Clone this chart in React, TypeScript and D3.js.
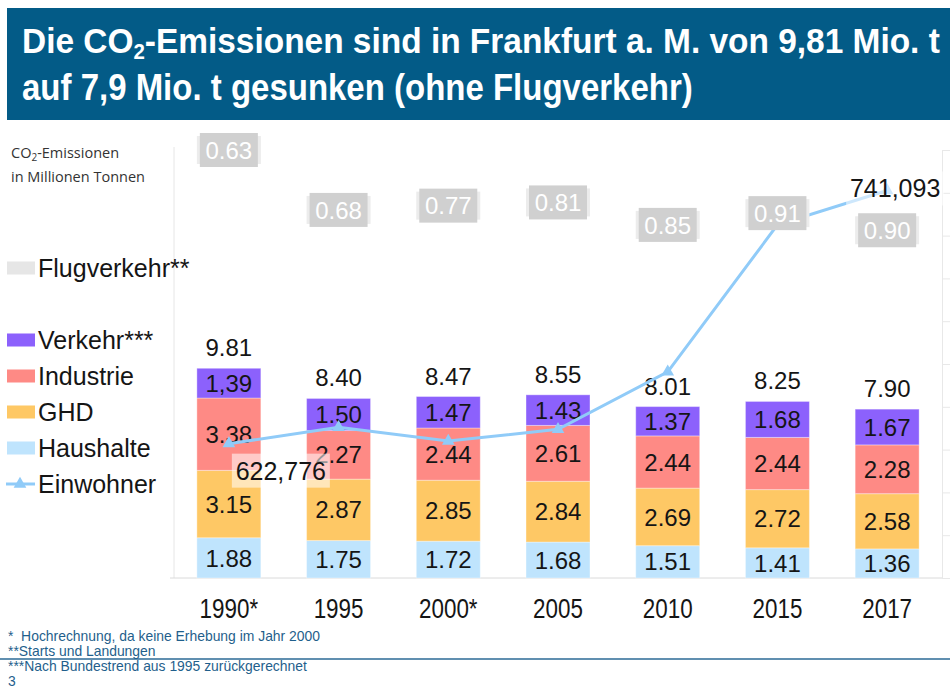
import React, { useEffect, useRef } from "react";
import * as d3 from "d3";

// CO2-Emissionen Frankfurt a. M., Mio. t
const years = ["1990*", "1995", "2000*", "2005", "2010", "2015", "2017"];
const haushalte = [1.88, 1.75, 1.72, 1.68, 1.51, 1.41, 1.36];
const ghd = [3.15, 2.87, 2.85, 2.84, 2.69, 2.72, 2.58];
const industrie = [3.38, 2.27, 2.44, 2.61, 2.44, 2.44, 2.28];
const verkehr = [1.39, 1.5, 1.47, 1.43, 1.37, 1.68, 1.67];
const totals = [9.81, 8.4, 8.47, 8.55, 8.01, 8.25, 7.9];
const flugverkehr = [0.63, 0.68, 0.77, 0.81, 0.85, 0.91, 0.9];
// the Flugverkehr labels float freely in the original, anchored here in Mio. t (left axis)
const flugLabelAt = [20.0, 17.2, 17.4, 17.55, 16.5, 17.05, 16.25];
// Einwohner, right (hidden) axis
const einwohner = [622776, 630400, 624000, 629500, 656300, 725000, 741093];
const einwohnerTicks = [560000, 580000, 600000, 620000, 640000, 660000, 680000, 700000, 720000, 740000, 760000];

const seriesKeys = ["Haushalte", "GHD", "Industrie", "Verkehr"];
const seriesValues: Record<string, number[]> = {
  Haushalte: haushalte,
  GHD: ghd,
  Industrie: industrie,
  Verkehr: verkehr,
};
const colors: Record<string, string> = {
  Haushalte: "#bfe4fd",
  GHD: "#fec865",
  Industrie: "#fe8a85",
  Verkehr: "#8c61fc",
  Flugverkehr: "#e6e6e6",
  Einwohner: "#90cbf8",
};
// original sheet wrote this one with a comma
const labelOverride: Record<string, string> = { "Verkehr|1990*": "1,39" };

const W = 950;
const H = 688;

export default function App() {
  const svgRef = useRef<SVGSVGElement | null>(null);

  useEffect(() => {
    if (!svgRef.current) return;
    const svg = d3.select(svgRef.current);
    svg.selectAll("*").remove();

    const font = "'Liberation Sans', Arial, sans-serif";
    const plotLeft = 174;
    const plotRight = 942;
    const baseY = 578;
    const topY = 150;

    const x = d3
      .scaleBand()
      .domain(years)
      .range([plotLeft, plotRight])
      .paddingInner(0.417)
      .paddingOuter(0.2085);
    const y = d3.scaleLinear().domain([0, 20]).range([baseY, topY]);
    const y2 = d3.scaleLinear().domain([560000, 760000]).range([baseY, topY]);

    // title bar
    svg.append("rect").attr("x", 7).attr("y", 8).attr("width", W - 7).attr("height", 112).attr("fill", "#035b87");
    const titleLines = [
      { parts: [["Die CO", 0], ["2", 1], ["-Emissionen sind in Frankfurt a. M. von 9,81 Mio. t", 0]], y: 53, w: 918 },
      { parts: [["auf 7,9 Mio. t gesunken (ohne Flugverkehr)", 0]], y: 100, w: 671 },
    ];
    titleLines.forEach((ln) => {
      const g = svg.append("g").attr("transform", `translate(22,${ln.y})`);
      const t = g
        .append("text")
        .attr("font-family", font)
        .attr("font-weight", "bold")
        .attr("font-size", 36)
        .attr("fill", "#ffffff");
      ln.parts.forEach(([s, sub]) => {
        const ts = t.append("tspan").text(s as string);
        if (sub) ts.attr("font-size", 22).attr("baseline-shift", "-30%");
      });
      const bw = (t.node() as SVGTextElement).getBBox().width;
      if (bw > 0) g.attr("transform", `translate(22,${ln.y}) scale(${ln.w / bw},1)`);
    });

    // axis title
    const at = svg
      .append("text")
      .attr("font-family", "'Open Sans', sans-serif")
      .attr("font-size", 14.5)
      .attr("fill", "#333");
    const at1 = at.append("tspan").attr("x", 11).attr("y", 158);
    at1.append("tspan").text("CO");
    at1.append("tspan").attr("font-size", 10).attr("baseline-shift", "-25%").text("2");
    at1.append("tspan").text("-Emissionen");
    at.append("tspan").attr("x", 11).attr("y", 182).text("in Millionen Tonnen");

    // frame lines
    svg.append("line").attr("x1", plotLeft).attr("x2", plotLeft).attr("y1", 147).attr("y2", baseY).attr("stroke", "#e6e6e6");
    svg
      .append("g")
      .attr("transform", `translate(${plotRight},0)`)
      .call(d3.axisRight(y2).tickValues(einwohnerTicks).tickSize(8).tickFormat(() => ""))
      .call((g) => g.selectAll("line, path").attr("stroke", "#e8e8e8"));
    svg.append("line").attr("x1", 170).attr("x2", plotRight).attr("y1", baseY).attr("y2", baseY).attr("stroke", "#dadada");

    // stacked bars
    const rows = years.map((yr, i) => {
      const r: any = { year: yr };
      seriesKeys.forEach((k) => (r[k] = seriesValues[k][i]));
      return r;
    });
    const stacked = d3.stack().keys(seriesKeys)(rows);
    const fmt = d3.format(".2f");

    stacked.forEach((layer) => {
      const g = svg.append("g");
      g.selectAll("rect")
        .data(layer)
        .enter()
        .append("rect")
        .attr("x", (d: any) => x(d.data.year)!)
        .attr("y", (d) => y(d[1]))
        .attr("width", x.bandwidth())
        .attr("height", (d) => y(d[0]) - y(d[1]))
        .attr("fill", colors[layer.key])
        .attr("stroke", "rgba(255,255,255,0.35)")
        .attr("stroke-width", 1);
      g.selectAll("text")
        .data(layer)
        .enter()
        .append("text")
        .attr("x", (d: any) => x(d.data.year)! + x.bandwidth() / 2)
        .attr("y", (d) => (y(d[0]) + y(d[1])) / 2)
        .attr("dy", "0.36em")
        .attr("text-anchor", "middle")
        .attr("font-family", font)
        .attr("font-size", 24)
        .attr("fill", "#151515")
        .text((d: any) => labelOverride[`${layer.key}|${d.data.year}`] ?? fmt(d[1] - d[0]));
    });

    // totals
    svg
      .append("g")
      .selectAll("text")
      .data(years)
      .enter()
      .append("text")
      .attr("x", (d) => x(d)! + x.bandwidth() / 2)
      .attr("y", (d, i) => y(totals[i]) - 12)
      .attr("text-anchor", "middle")
      .attr("font-family", font)
      .attr("font-size", 24)
      .attr("fill", "#151515")
      .text((d, i) => fmt(totals[i]));

    // Einwohner line
    const pts = years.map((yr, i) => [x(yr)! + x.bandwidth() / 2, y2(einwohner[i])] as [number, number]);
    svg
      .append("path")
      .attr("d", d3.line()(pts)!)
      .attr("fill", "none")
      .attr("stroke", colors.Einwohner)
      .attr("stroke-width", 3);
    const tri = d3.symbol().type(d3.symbolTriangle).size(70)();
    svg
      .append("g")
      .selectAll("path")
      .data(pts)
      .enter()
      .append("path")
      .attr("d", tri)
      .attr("transform", (d) => `translate(${d[0]},${d[1]})`)
      .attr("fill", colors.Einwohner);

    // Flugverkehr labels
    const fg = svg.append("g");
    years.forEach((yr, i) => {
      const cx = x(yr)! + x.bandwidth() / 2;
      const cy = y(flugLabelAt[i]);
      fg.append("rect").attr("x", cx - 32).attr("y", cy - 14).attr("width", 64).attr("height", 28).attr("fill", "#ececec");
      fg.append("rect").attr("x", cx - 29).attr("y", cy - 17).attr("width", 58).attr("height", 34).attr("fill", "#d0d0d0");
      fg.append("text")
        .attr("x", cx)
        .attr("y", cy)
        .attr("dy", "0.36em")
        .attr("text-anchor", "middle")
        .attr("font-family", font)
        .attr("font-size", 24)
        .attr("fill", "#ffffff")
        .text(fmt(flugverkehr[i]));
    });

    // Einwohner labels on first and last point
    const popFmt = d3.format(",");
    const popLabels = [
      { i: 0, dx: 52, dy: 27 },
      { i: years.length - 1, dx: 8, dy: -2 },
    ];
    popLabels.forEach(({ i, dx, dy }) => {
      const cx = pts[i][0] + dx;
      const cy = pts[i][1] + dy;
      svg
        .append("rect")
        .attr("x", cx - 49)
        .attr("y", cy - 17)
        .attr("width", 98)
        .attr("height", 34)
        .attr("fill", "rgba(255,255,255,0.55)");
      svg
        .append("text")
        .attr("x", cx)
        .attr("y", cy)
        .attr("dy", "0.36em")
        .attr("text-anchor", "middle")
        .attr("font-family", font)
        .attr("font-size", 25)
        .attr("fill", "#151515")
        .text(popFmt(einwohner[i]));
    });

    // year labels (condensed)
    years.forEach((yr) => {
      svg
        .append("g")
        .attr("transform", `translate(${x(yr)! + x.bandwidth() / 2},618) scale(0.83,1)`)
        .append("text")
        .attr("text-anchor", "middle")
        .attr("font-family", font)
        .attr("font-size", 27)
        .attr("fill", "#151515")
        .text(yr);
    });

    // legend
    const legendItems = ["Flugverkehr**", "Verkehr***", "Industrie", "GHD", "Haushalte", "Einwohner"];
    const legendColor = ["Flugverkehr", "Verkehr", "Industrie", "GHD", "Haushalte", "Einwohner"];
    legendItems.forEach((name, i) => {
      const cy = i === 0 ? 268 : 340 + 36 * (i - 1);
      const key = legendColor[i];
      if (key === "Einwohner") {
        svg.append("line").attr("x1", 6).attr("x2", 35).attr("y1", cy).attr("y2", cy).attr("stroke", colors[key]).attr("stroke-width", 3);
        svg.append("path").attr("d", tri).attr("transform", `translate(20,${cy})`).attr("fill", colors[key]);
      } else {
        svg.append("rect").attr("x", 7).attr("y", cy - 6.5).attr("width", 28).attr("height", 13).attr("fill", colors[key]);
      }
      svg
        .append("text")
        .attr("x", 38)
        .attr("y", cy + 9)
        .attr("font-family", font)
        .attr("font-size", 25)
        .attr("fill", "#151515")
        .text(name);
    });

    // footnotes
    svg.append("line").attr("x1", 0).attr("x2", W).attr("y1", 659).attr("y2", 659).attr("stroke", "#2b6a96").attr("stroke-width", 1.5);
    const notes = [
      "*  Hochrechnung, da keine Erhebung im Jahr 2000",
      "**Starts und Landungen",
      "***Nach Bundestrend aus 1995 zurückgerechnet",
      "3",
    ];
    notes.forEach((n, i) => {
      svg
        .append("text")
        .attr("x", 8)
        .attr("y", 641 + i * 15)
        .attr("font-family", font)
        .attr("font-size", 13.9)
        .attr("fill", "#1f5f8c")
        .attr("xml:space", "preserve")
        .style("white-space", "pre")
        .text(n);
    });
  }, []);

  return (
    <div style={{ position: "absolute", left: 0, top: 0, width: W, height: H, background: "#fff" }}>
      <svg ref={svgRef} width={W} height={H} />
    </div>
  );
}
